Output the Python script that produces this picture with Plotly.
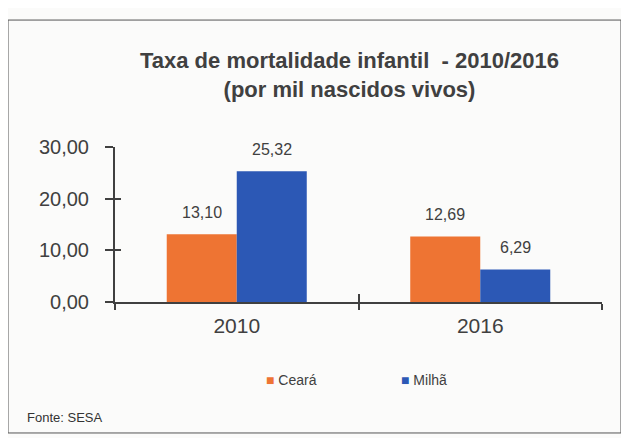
import plotly.graph_objects as go

# ---- data ----
categories = ["2010", "2016"]
series_names = ["Ceará", "Milhã"]
ceara = [13.10, 12.69]
milha = [25.32, 6.29]
ytick_vals = [0, 10, 20, 30]
ytick_text = ["0,00", "10,00", "20,00", "30,00"]

colors = ["#EE7433", "#2C58B5"]
FONT = "Liberation Sans, Arial, sans-serif"
TXT = "#404040"

def br(v):
    return f"{v:.2f}".replace(".", ",")

fig = go.Figure()
for name, vals, col in zip(series_names, [ceara, milha], colors):
    fig.add_trace(go.Bar(x=categories, y=vals, name=name, marker=dict(color=col, line=dict(width=0)),
                         showlegend=False, hoverinfo="skip"))

# invisible trace carrying the overlay axes (for ticks crossing the axis lines)
fig.add_trace(go.Scatter(x=categories, y=[None, None], xaxis="x2", yaxis="y2", mode="markers",
                         showlegend=False, hoverinfo="skip"))

# data labels (x given as category index)
for vals, shift in [(ceara, -35), (milha, 35)]:
    for i, v in enumerate(vals):
        fig.add_annotation(x=i, y=v, xref="x", yref="y", text=br(v), showarrow=False,
                           xshift=shift, yshift=22, yanchor="middle",
                           font=dict(size=16, color=TXT, family=FONT))

# title
fig.add_annotation(xref="paper", yref="paper", x=0.4825, y=1.4645,
                   text="<b>Taxa de mortalidade infantil  - 2010/2016<br>(por mil nascidos vivos)</b>",
                   showarrow=False, xanchor="center", yanchor="middle",
                   font=dict(size=22, color=TXT, family=FONT))

# legend (as text)
for name, col, xp in zip(series_names, colors, [0.306, 0.583]):
    fig.add_annotation(xref="paper", yref="paper", x=xp, y=-0.505,
                       text=f'<span style="color:{col}">■</span> {name}',
                       showarrow=False, xanchor="left", yanchor="middle",
                       font=dict(size=14, color=TXT, family=FONT))

# source
fig.add_annotation(xref="paper", yref="paper", x=-0.185, y=-0.748, text="Fonte: SESA",
                   showarrow=False, xanchor="left", yanchor="middle",
                   font=dict(size=13, color="#333333", family=FONT))

# frame
fig.add_shape(type="rect", xref="paper", yref="paper", x0=-0.2197, x1=1.039, y0=-0.845, y1=1.819,
              line=dict(color="#555555", width=1))

axis_col = "#404040"
xr = [-0.5, len(categories) - 0.5]
fig.update_layout(
    width=621, height=430,
    margin=dict(l=107, r=27, t=139, b=136),
    paper_bgcolor="#FBFBFA", plot_bgcolor="rgba(0,0,0,0)",
    barmode="group", bargap=0.425, bargroupgap=0,
    font=dict(family=FONT, color=TXT),
    xaxis=dict(type="category", categoryorder="array", categoryarray=categories, range=xr,
               showgrid=False, zeroline=False, showline=True, linecolor=axis_col,
               linewidth=2, ticks="outside", ticklen=6, tickwidth=2, tickcolor=axis_col,
               tickson="boundaries", ticklabelstandoff=4,
               tickfont=dict(size=21, color=TXT, family=FONT)),
    yaxis=dict(range=[0, 30], tickvals=ytick_vals, ticktext=ytick_text, showgrid=False, zeroline=False,
               showline=True, linecolor=axis_col, linewidth=2, ticks="outside", ticklen=8, tickwidth=2,
               tickcolor=axis_col, ticklabelstandoff=12,
               tickfont=dict(size=20, color=TXT, family=FONT)),
    xaxis2=dict(type="category", categoryorder="array", categoryarray=categories, range=xr,
                overlaying="x", anchor="y2", side="bottom", tickson="boundaries",
                showticklabels=False, ticks="inside", ticklen=8, tickwidth=2, tickcolor=axis_col,
                showgrid=False, zeroline=False, showline=False),
    yaxis2=dict(overlaying="y", anchor="x2", side="left", range=[0, 30], tickvals=ytick_vals,
                showticklabels=False, ticks="inside", ticklen=6, tickwidth=2, tickcolor=axis_col,
                showgrid=False, zeroline=False, showline=False),
    showlegend=False,
)

fig.write_html("out.html")
